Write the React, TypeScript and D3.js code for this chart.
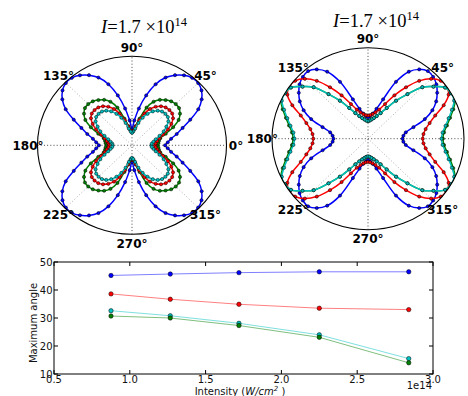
import React from 'react';
import * as d3 from 'd3';

// angles 0..90 step 5 (curves are mirrored into the other quadrants)
const quadAngles = d3.range(0, 95, 5);

// left polar plot, radius as fraction of outer circle
const leftBlue = [0.35, 0.38, 0.42, 0.49, 0.57, 0.68, 0.81, 0.9, 0.96, 0.99, 0.99, 0.96, 0.91, 0.84, 0.73, 0.58, 0.42, 0.28, 0.19];
const leftGreen = [0.27, 0.28, 0.29, 0.31, 0.38, 0.48, 0.57, 0.62, 0.65, 0.655, 0.645, 0.62, 0.59, 0.54, 0.45, 0.31, 0.22, 0.17, 0.15];
const leftRed = [0.245, 0.25, 0.27, 0.3, 0.35, 0.42, 0.48, 0.53, 0.555, 0.56, 0.555, 0.535, 0.5, 0.45, 0.38, 0.29, 0.21, 0.17, 0.155];
const leftCyan = [0.205, 0.21, 0.23, 0.26, 0.31, 0.37, 0.42, 0.47, 0.495, 0.5, 0.495, 0.475, 0.44, 0.39, 0.33, 0.26, 0.19, 0.155, 0.14];

// right polar plot
const rightBlue = [0.36, 0.37, 0.4, 0.49, 0.63, 0.74, 0.82, 0.88, 0.93, 0.96, 0.97, 0.93, 0.85, 0.69, 0.46, 0.34, 0.28, 0.25, 0.235];
const rightRed = [0.57, 0.58, 0.61, 0.665, 0.745, 0.87, 0.97, 1.0, 0.99, 0.93, 0.83, 0.69, 0.55, 0.42, 0.34, 0.3, 0.275, 0.26, 0.255];
const rightGreen = [0.78, 0.795, 0.835, 0.885, 0.945, 1.0, 1.0, 0.98, 0.89, 0.8, 0.64, 0.51, 0.39, 0.31, 0.265, 0.235, 0.215, 0.2, 0.195];
const rightCyan = [0.765, 0.78, 0.82, 0.87, 0.93, 0.99, 1.0, 0.98, 0.89, 0.8, 0.64, 0.51, 0.39, 0.31, 0.265, 0.235, 0.215, 0.2, 0.195];

// bottom chart
const intensity = [0.876, 1.267, 1.72, 2.25, 2.84];
const maxBlue = [45.2, 45.7, 46.2, 46.5, 46.5];
const maxRed = [38.6, 36.7, 34.9, 33.5, 33.0];
const maxCyan = [32.6, 30.8, 28.1, 24.0, 15.5];
const maxGreen = [30.7, 30.0, 27.3, 23.1, 14.0];

const xTicks = [0.5, 1.0, 1.5, 2.0, 2.5, 3.0];
const yTicks = [10, 20, 30, 40, 50];
const thetaLabels = [0, 45, 90, 135, 180, 225, 270, 315];

const COLORS = { blue: '#0000ff', green: '#008000', red: '#ff0000', cyan: '#00bfbf' };

const fullCurve = (quad: number[]) => {
  const pts: { a: number; r: number }[] = [];
  for (let a = 0; a < 360; a += 5) {
    let q = a;
    if (a > 90 && a <= 180) q = 180 - a;
    else if (a > 180 && a <= 270) q = a - 180;
    else if (a > 270) q = 360 - a;
    pts.push({ a, r: quad[quadAngles.indexOf(q)] });
  }
  return pts;
};

const Polar = ({ id, cx, cy, rx, ry, titleX, titleY, labels, series }: any) => {
  const rX = d3.scaleLinear().domain([0, 1]).range([0, rx]);
  const rY = d3.scaleLinear().domain([0, 1]).range([0, ry]);
  const px = (d: any) => cx + rX(d.r) * Math.cos((d.a * Math.PI) / 180);
  const py = (d: any) => cy - rY(d.r) * Math.sin((d.a * Math.PI) / 180);
  const line = d3.line<any>().x(px).y(py).curve(d3.curveCatmullRomClosed.alpha(0.5));
  return (
    <g>
      <defs>
        <clipPath id={id}>
          <ellipse cx={cx} cy={cy} rx={rx} ry={ry} />
        </clipPath>
      </defs>
      <ellipse cx={cx} cy={cy} rx={rx} ry={ry} fill="#fff" stroke="none" />
      {thetaLabels.slice(0, 4).map(a => {
        const c = Math.cos((a * Math.PI) / 180), s = Math.sin((a * Math.PI) / 180);
        const main = a % 90 === 0;
        return (
          <line key={a} x1={cx - rx * c} y1={cy + ry * s} x2={cx + rx * c} y2={cy - ry * s}
            stroke={main ? '#333' : '#999'} strokeWidth={main ? 0.9 : 0.8} strokeDasharray="1,2.2" />
        );
      })}
      <g clipPath={`url(#${id})`}>
        {series.map((s: any, i: number) => {
          const pts = fullCurve(s.values);
          return (
            <g key={i}>
              <path d={line(pts) || ''} fill="none" stroke={s.color} strokeWidth={1.5} />
              {pts.map((d, j) => (
                <circle key={j} cx={px(d)} cy={py(d)} r={1.6} fill={s.color} stroke="#000" strokeWidth={0.5} />
              ))}
            </g>
          );
        })}
      </g>
      <ellipse cx={cx} cy={cy} rx={rx} ry={ry} fill="none" stroke="#000" strokeWidth={1.1} />
      {labels.map((a: number) => {
        const c = Math.cos((a * Math.PI) / 180), s = Math.sin((a * Math.PI) / 180);
        return (
          <text key={a} x={cx + 1.1 * rx * c} y={cy - 1.1 * ry * s} dy="0.36em" textAnchor="middle"
            fontFamily="DejaVu Sans" fontWeight="bold" fontSize={12}>{a}°</text>
        );
      })}
      <text x={titleX} y={titleY} textAnchor="middle" fontFamily="Liberation Serif" fontSize={18.5}>
        <tspan fontStyle="italic">I</tspan>
        <tspan>=1.7 ×10</tspan>
        <tspan fontSize={12.5} dy={-7}>14</tspan>
      </text>
    </g>
  );
};

const Bottom = () => {
  const left = 54, right = 433, top = 262, bottom = 374;
  const x = d3.scaleLinear().domain([0.5, 3.0]).range([left, right]);
  const y = d3.scaleLinear().domain([10, 50]).range([bottom, top]);
  const series = [
    { values: maxBlue, color: COLORS.blue },
    { values: maxRed, color: COLORS.red },
    { values: maxCyan, color: COLORS.cyan },
    { values: maxGreen, color: COLORS.green },
  ];
  const line = d3.line<number>().x((_, i) => x(intensity[i])).y(d => y(d));
  const font = { fontFamily: 'DejaVu Sans', fontSize: 10, fill: '#111' };
  return (
    <g>
      <rect x={left} y={top} width={right - left} height={bottom - top} fill="#fff" />
      {series.map((s, i) => (
        <g key={i}>
          <path d={line(s.values) || ''} fill="none" stroke={s.color} strokeOpacity={0.5} strokeWidth={1} />
          {s.values.map((v, j) => (
            <circle key={j} cx={x(intensity[j])} cy={y(v)} r={2.2} fill={s.color} stroke="#000" strokeWidth={0.5} />
          ))}
        </g>
      ))}
      <rect x={left} y={top} width={right - left} height={bottom - top} fill="none" stroke="#000" strokeWidth={1} />
      {xTicks.map(t => (
        <g key={t}>
          <line x1={x(t)} x2={x(t)} y1={bottom} y2={bottom - 4} stroke="#000" />
          <line x1={x(t)} x2={x(t)} y1={top} y2={top + 4} stroke="#000" />
          <text x={x(t)} y={379} dy="0.36em" textAnchor="middle" {...font}>{t.toFixed(1)}</text>
        </g>
      ))}
      {yTicks.map(t => (
        <g key={t}>
          <line x1={left} x2={left + 4} y1={y(t)} y2={y(t)} stroke="#000" />
          <line x1={right} x2={right - 4} y1={y(t)} y2={y(t)} stroke="#000" />
          <text x={left - 1.5} y={y(t)} dy="0.36em" textAnchor="end" {...font}>{t}</text>
        </g>
      ))}
      <text x={right - 1} y={385} dy="0.36em" textAnchor="end" {...font}>1e14</text>
      <text x={240} y={391.5} dy="0.36em" textAnchor="middle" {...font}>
        Intensity (<tspan fontStyle="italic">W/cm</tspan><tspan fontSize={7} dy={-4} fontStyle="italic">2</tspan><tspan dy={4}> )</tspan>
      </text>
      <text transform={`translate(33,${(top + bottom) / 2 + 5}) rotate(-90)`} dy="0.36em" textAnchor="middle" {...font}>Maximum angle</text>
    </g>
  );
};

export default function App() {
  return (
    <svg width={468} height={396} style={{ position: 'absolute', left: 0, top: 0, background: '#fff' }}>
      <Polar id="clipL" cx={132} cy={145.3} rx={94.5} ry={89} titleX={144} titleY={33}
        labels={thetaLabels}
        series={[
          { values: leftBlue, color: COLORS.blue },
          { values: leftGreen, color: COLORS.green },
          { values: leftRed, color: COLORS.red },
          { values: leftCyan, color: COLORS.cyan },
        ]} />
      <Polar id="clipR" cx={368} cy={138.7} rx={96} ry={91} titleX={376} titleY={27}
        labels={thetaLabels.slice(1)}
        series={[
          { values: rightBlue, color: COLORS.blue },
          { values: rightRed, color: COLORS.red },
          { values: rightGreen, color: COLORS.green },
          { values: rightCyan, color: COLORS.cyan },
        ]} />
      <Bottom />
    </svg>
  );
}
